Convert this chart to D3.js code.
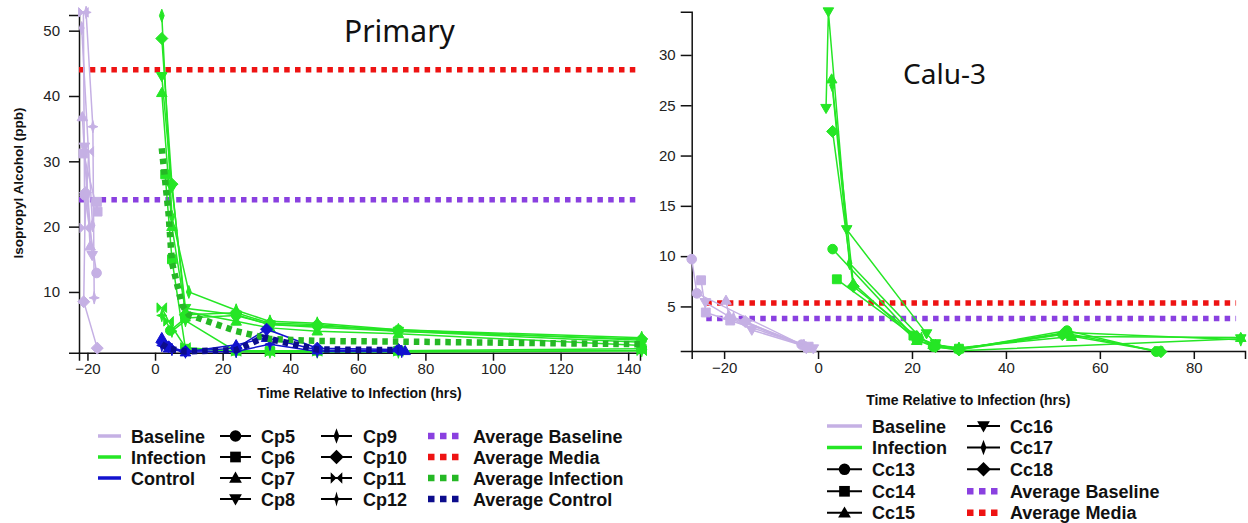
<!DOCTYPE html>
<html>
<head>
<meta charset="utf-8">
<script src="https://cdn.jsdelivr.net/npm/d3@7"></script>
<style>
  body { margin: 0; background: #fff; }
  svg { display: block; }
  .axis .tick text { font-family: "Liberation Sans", Arial, sans-serif; font-size: 15px; fill: #222; }
  .axis path, .axis line { stroke: #111; stroke-width: 1.5; }
  .legend text { font-family: "Liberation Sans", Arial, sans-serif; font-size: 18px; font-weight: bold; fill: #111; }
</style>
</head>
<body>
<svg id="chart" width="1248" height="523"></svg>
<script>
// ---------- Primary cultures: time (hrs) vs isopropyl alcohol (ppb) ----------
const primaryTicksX = [-20, 0, 20, 40, 60, 80, 100, 120, 140];
const primaryTicksY = [10, 20, 30, 40, 50];

const cp5Baseline  = [[-20.8, 24.8], [-17.3, 12.9]];
const cp6Baseline  = [[-21.2, 31.2], [-17.0, 22.3], [-17.2, 23.8]];
const cp7Baseline  = [[-21.5, 36.8], [-19.2, 17.0]];
const cp8Baseline  = [[-20.9, 32.2], [-18.6, 15.6]];
const cp9Baseline  = [[-21.7, 50.4], [-18.5, 20.2]];
const cp10Baseline = [[-20.6, 25.2], [-21.1, 8.5], [-17.1, 1.4]];
const cp11Baseline = [[-21.2, 52.8], [-20.8, 19.8], [-19.6, 31.5]];
const cp12Baseline = [[-20.4, 52.8], [-18.4, 35.3], [-18.0, 9.1]];

const cp5Infection  = [[4.5, 4.1], [9, 6.0], [24, 6.4], [34, 5.0], [48, 4.8], [72, 4.2], [144, 2.6]];
const cp6Infection  = [[3, 28.0], [5, 15.0], [9, 1.3], [24, 1.0], [34, 1.0], [48, 1.0], [72, 1.0], [144, 1.3]];
const cp7Infection  = [[2, 40.5], [5, 20.0], [9, 7.0], [24, 5.5], [34, 4.5], [48, 4.0], [72, 3.6], [144, 1.8]];
const cp8Infection  = [[2, 43.0], [5, 26.0], [9, 7.5], [24, 6.5], [34, 5.0], [48, 4.6], [72, 4.0], [144, 2.3]];
const cp9Infection  = [[2, 52.3], [5, 21.5], [10, 10.0], [24, 7.2], [34, 5.5], [48, 5.2], [72, 4.2], [144, 3.0]];
const cp10Infection = [[2, 48.8], [5, 26.5], [9, 6.5], [24, 6.8], [34, 5.2], [48, 5.0], [72, 4.0], [144, 2.8]];
const cp11Infection = [[2, 7.6], [4, 5.5], [9, 1.5], [24, 0.9], [34, 0.8], [48, 0.9], [72, 0.9], [144, 1.0]];
const cp12Infection = [[2, 6.4], [5, 4.0], [9, 5.6], [24, 0.9], [34, 0.8], [48, 0.8], [72, 0.8], [144, 1.0]];

const cp7Control  = [[2, 3.0], [4, 1.4], [9, 0.8], [24, 1.9], [33, 3.0], [48, 1.1], [74, 1.0]];
const cp10Control = [[2, 2.3], [4, 1.6], [9, 0.9], [24, 1.4], [33, 4.3], [48, 1.4], [72, 1.2]];
const cp12Control = [[2, 1.8], [5, 1.2], [9, 0.8], [24, 0.9], [34, 2.0], [48, 0.9], [73, 0.9]];

const primaryAvgInfection = [[2, 32], [4, 22], [5, 14.5], [8, 8], [10, 6.5], [24, 4], [34, 2.8], [48, 2.5], [72, 2.4], [144, 2.0]];
const primaryAvgControl   = [[2, 2.0], [4, 1.3], [9, 0.9], [24, 1.1], [32, 3.0], [48, 1.2], [72, 1.1]];
const primaryMediaLevel    = 44.0;
const primaryBaselineLevel = 24.1;

// ---------- Calu-3 cultures ----------
const caluTicksX = [-20, 0, 20, 40, 60, 80];
const caluTicksY = [5, 10, 15, 20, 25, 30];

const cc13Baseline = [[-26.9, 9.7], [-25.8, 6.3], [-3.5, 1.2]];
const cc14Baseline = [[-24.9, 7.6], [-23.9, 4.4], [-18.7, 3.6], [-2.0, 1.0]];
const cc15Baseline = [[-19.6, 5.6], [-19.0, 4.1], [-1.5, 0.9]];
const cc16Baseline = [[-24.0, 5.4], [-14.1, 2.65], [-1.0, 0.8]];
const cc17Baseline = [[-18.0, 3.8], [-3.0, 1.1]];
const cc18Baseline = [[-15.5, 3.5], [-2.5, 0.9]];

const cc13Infection = [[3.1, 10.7], [21, 1.7], [24.5, 1.0], [30, 0.7], [53, 2.6], [72, 0.5]];
const cc14Infection = [[4.0, 7.7], [20.3, 2.1], [25, 1.2], [30, 0.8], [53, 2.3], [72.5, 0.55]];
const cc15Infection = [[2.9, 27.6], [7.5, 7.3], [21, 1.6], [24.5, 1.2], [30, 0.9], [54, 2.0], [90, 1.9]];
const cc16Infection = [[1.7, 24.7], [2.2, 34.3], [6.1, 12.65], [23.1, 2.3], [25, 1.3], [30, 0.6], [90, 1.8]];
const cc17Infection = [[3.0, 27.0], [6.7, 9.3], [22, 1.8], [25, 1.1], [30, 0.8], [53, 2.4], [90, 1.7]];
const cc18Infection = [[3.1, 22.4], [7.5, 7.0], [21, 2.0], [25, 1.0], [30, 0.7], [52, 2.2], [73, 0.5]];

const caluMediaLevel    = 5.35;
const caluBaselineLevel = 3.8;
const caluAvgSpan       = [-23.8, 89];

// ---------- colours ----------
const colBaseline = "#c5b0e4";
const colInfection = "#25e625";
const colControl = "#1212cf";
const colAvgBaseline = "#8a40e0";
const colAvgMedia = "#ee1313";
const colAvgInfection = "#25b825";
const colAvgControl = "#0c0c8c";

// ---------- marker shapes ----------
function markerPath(kind, r) {
  switch (kind) {
    case "circle":   return d3.symbol(d3.symbolCircle, Math.PI * r * r)();
    case "square":   return d3.symbol(d3.symbolSquare, 3.4 * r * r)();
    case "triUp":    return `M0,${-r * 1.1}L${r * 1.1},${r * 0.8}L${-r * 1.1},${r * 0.8}Z`;
    case "triDown":  return `M0,${r * 1.1}L${r * 1.1},${-r * 0.8}L${-r * 1.1},${-r * 0.8}Z`;
    case "thinDiamond": return `M0,${-r * 1.35}L${r * 0.5},0L0,${r * 1.35}L${-r * 0.5},0Z`;
    case "diamond":  return `M0,${-r * 1.25}L${r * 1.25},0L0,${r * 1.25}L${-r * 1.25},0Z`;
    case "bowtie":   return `M${-r},${-r}L0,0L${-r},${r}ZM${r},${-r}L0,0L${r},${r}Z`;
    case "star":     return `M0,${-r * 1.3}L${r * 0.28},${-r * 0.28}L${r * 1.05},0L${r * 0.28},${r * 0.28}L0,${r * 1.3}L${-r * 0.28},${r * 0.28}L${-r * 1.05},0L${-r * 0.28},${-r * 0.28}Z`;
  }
}

const svg = d3.select("#chart");

function drawPanel(p) {
  const g = svg.append("g");
  const x = p.x, y = p.y;
  const line = d3.line().x(d => x(d[0])).y(d => y(d[1]));

  // axes
  g.append("g").attr("class", "axis")
    .attr("transform", `translate(0,${y.range()[0]})`)
    .call(d3.axisBottom(x).tickValues(p.ticksX).tickSizeOuter(0).tickSize(8).tickPadding(3));
  g.append("g").attr("class", "axis")
    .attr("transform", `translate(${x.range()[0]},0)`)
    .call(d3.axisLeft(y).tickValues(p.ticksY).tickSizeOuter(0).tickSize(p.yTick[0]).tickPadding(p.yTick[1]));

  // horizontal average levels
  p.levels.forEach(l => {
    g.append("line")
      .attr("x1", x(l.span[0])).attr("x2", x(l.span[1]))
      .attr("y1", y(l.value)).attr("y2", y(l.value))
      .attr("stroke", l.color).attr("stroke-width", 5.5)
      .attr("stroke-dasharray", "5.5 5.3");
  });

  // individual subject series
  p.series.forEach(s => {
    g.append("path").datum(s.pts)
      .attr("d", line).attr("fill", "none")
      .attr("stroke", s.color).attr("stroke-width", 1.5);
    g.selectAll(null).data(s.pts).enter().append("path")
      .attr("transform", d => `translate(${x(d[0])},${y(d[1])})`)
      .attr("d", markerPath(s.marker, 4.8))
      .attr("fill", s.color).attr("stroke", s.color).attr("stroke-width", 1);
  });

  // time-course averages
  (p.averages || []).forEach(a => {
    g.append("path").datum(a.pts)
      .attr("d", line).attr("fill", "none")
      .attr("stroke", a.color).attr("stroke-width", 6.5)
      .attr("stroke-dasharray", "5.5 5");
  });

  // title
  g.append("text").attr("x", p.title.x).attr("y", p.title.y)
    .attr("font-family", "'Noto Sans', 'Open Sans', sans-serif")
    .attr("font-size", p.title.size).attr("fill", "#111")
    .text(p.title.text);

  // x-axis label
  g.append("text")
    .attr("x", (x.range()[0] + x.range()[1]) / 2).attr("y", p.xLabelY)
    .attr("text-anchor", "middle")
    .attr("font-family", "'Liberation Sans', Arial, sans-serif")
    .attr("font-size", 14).attr("font-weight", "bold").attr("fill", "#111")
    .text("Time Relative to Infection (hrs)");
}

const mk = ["circle", "square", "triUp", "triDown", "thinDiamond", "diamond", "bowtie", "star"];

drawPanel({
  x: d3.scaleLinear().domain([-22.5, 143.5]).range([79, 640]),
  y: d3.scaleLinear().domain([0.7, 52.4]).range([352.7, 15]),
  ticksX: primaryTicksX, ticksY: primaryTicksY, yTick: [10, 9],
  levels: [
    { value: primaryMediaLevel, span: [-22.5, 143.5], color: colAvgMedia },
    { value: primaryBaselineLevel, span: [-22.5, 143.5], color: colAvgBaseline }
  ],
  series: [
    ...[cp5Baseline, cp6Baseline, cp7Baseline, cp8Baseline, cp9Baseline, cp10Baseline, cp11Baseline, cp12Baseline]
      .map((pts, i) => ({ pts, marker: mk[i], color: colBaseline })),
    ...[cp5Infection, cp6Infection, cp7Infection, cp8Infection, cp9Infection, cp10Infection, cp11Infection, cp12Infection]
      .map((pts, i) => ({ pts, marker: mk[i], color: colInfection })),
    { pts: cp7Control, marker: "triUp", color: colControl },
    { pts: cp10Control, marker: "diamond", color: colControl },
    { pts: cp12Control, marker: "star", color: colControl }
  ],
  averages: [
    { pts: primaryAvgInfection, color: colAvgInfection },
    { pts: primaryAvgControl, color: colAvgControl }
  ],
  title: { text: "Primary", x: 344, y: 42, size: 30 },
  xLabelY: 398
});

drawPanel({
  x: d3.scaleLinear().domain([-26.9, 90.9]).range([691.7, 1245]),
  y: d3.scaleLinear().domain([0.57, 34.3]).range([351, 11.7]),
  ticksX: caluTicksX, ticksY: caluTicksY, yTick: [11, 5],
  levels: [
    { value: caluMediaLevel, span: caluAvgSpan, color: colAvgMedia },
    { value: caluBaselineLevel, span: caluAvgSpan, color: colAvgBaseline }
  ],
  series: [
    ...[cc13Baseline, cc14Baseline, cc15Baseline, cc16Baseline, cc17Baseline, cc18Baseline]
      .map((pts, i) => ({ pts, marker: ["circle", "square", "triUp", "triDown", "thinDiamond", "diamond"][i], color: colBaseline })),
    ...[cc13Infection, cc14Infection, cc15Infection, cc16Infection, cc17Infection, cc18Infection]
      .map((pts, i) => ({ pts, marker: ["circle", "square", "triUp", "triDown", "thinDiamond", "diamond"][i], color: colInfection }))
  ],
  title: { text: "Calu-3", x: 903, y: 84, size: 28 },
  xLabelY: 405
});

// y-axis title (left panel)
svg.append("text")
  .attr("transform", "translate(23,183) rotate(-90)")
  .attr("text-anchor", "middle")
  .attr("font-family", "'Liberation Sans', Arial, sans-serif")
  .attr("font-size", 13.5).attr("font-weight", "bold").attr("fill", "#111")
  .text("Isopropyl Alcohol (ppb)");

// ---------- legends ----------
function legendEntry(g, x0, yc, kind, label, opts) {
  const w = opts.w || 32;
  if (kind === "line") {
    g.append("line").attr("x1", x0).attr("x2", x0 + w).attr("y1", yc).attr("y2", yc)
      .attr("stroke", opts.color).attr("stroke-width", 3.5);
  } else if (kind === "dots") {
    g.append("line").attr("x1", x0).attr("x2", x0 + w).attr("y1", yc).attr("y2", yc)
      .attr("stroke", opts.color).attr("stroke-width", 6.5).attr("stroke-dasharray", "6.5 5.5");
  } else {
    g.append("line").attr("x1", x0).attr("x2", x0 + w).attr("y1", yc).attr("y2", yc)
      .attr("stroke", "#000").attr("stroke-width", 2);
    g.append("path").attr("transform", `translate(${x0 + w / 2},${yc})`)
      .attr("d", markerPath(kind, 5.8)).attr("fill", "#000");
  }
  g.append("text").attr("x", x0 + w + opts.gap).attr("y", yc + 6.5).text(label);
}

const lg = svg.append("g").attr("class", "legend");
const rowsL = [436, 457, 478, 499];
[["Baseline", colBaseline], ["Infection", colInfection], ["Control", colControl]].forEach((d, i) =>
  legendEntry(lg, 98, rowsL[i], "line", d[0], { color: d[1], w: 23, gap: 10 }));
["Cp5", "Cp6", "Cp7", "Cp8"].forEach((t, i) =>
  legendEntry(lg, 220, rowsL[i], mk[i], t, { w: 31, gap: 10 }));
["Cp9", "Cp10", "Cp11", "Cp12"].forEach((t, i) =>
  legendEntry(lg, 321, rowsL[i], mk[i + 4], t, { w: 31, gap: 11 }));
[["Average Baseline", colAvgBaseline], ["Average Media", colAvgMedia], ["Average Infection", colAvgInfection], ["Average Control", colAvgControl]]
  .forEach((d, i) => legendEntry(lg, 428, rowsL[i], "dots", d[0], { color: d[1], w: 35, gap: 10 }));

const rowsR = [426, 447.5, 469.3, 491.3, 512.8];
legendEntry(lg, 827, rowsR[0], "line", "Baseline", { color: colBaseline, w: 35, gap: 10 });
legendEntry(lg, 827, rowsR[1], "line", "Infection", { color: colInfection, w: 35, gap: 10 });
["Cc13", "Cc14", "Cc15"].forEach((t, i) =>
  legendEntry(lg, 827, rowsR[i + 2], mk[i], t, { w: 35, gap: 10 }));
["Cc16", "Cc17", "Cc18"].forEach((t, i) =>
  legendEntry(lg, 967, rowsR[i], mk[i + 3], t, { w: 33, gap: 10 }));
legendEntry(lg, 967, rowsR[3], "dots", "Average Baseline", { color: colAvgBaseline, w: 33, gap: 10 });
legendEntry(lg, 967, rowsR[4], "dots", "Average Media", { color: colAvgMedia, w: 33, gap: 10 });
</script>
</body>
</html>
